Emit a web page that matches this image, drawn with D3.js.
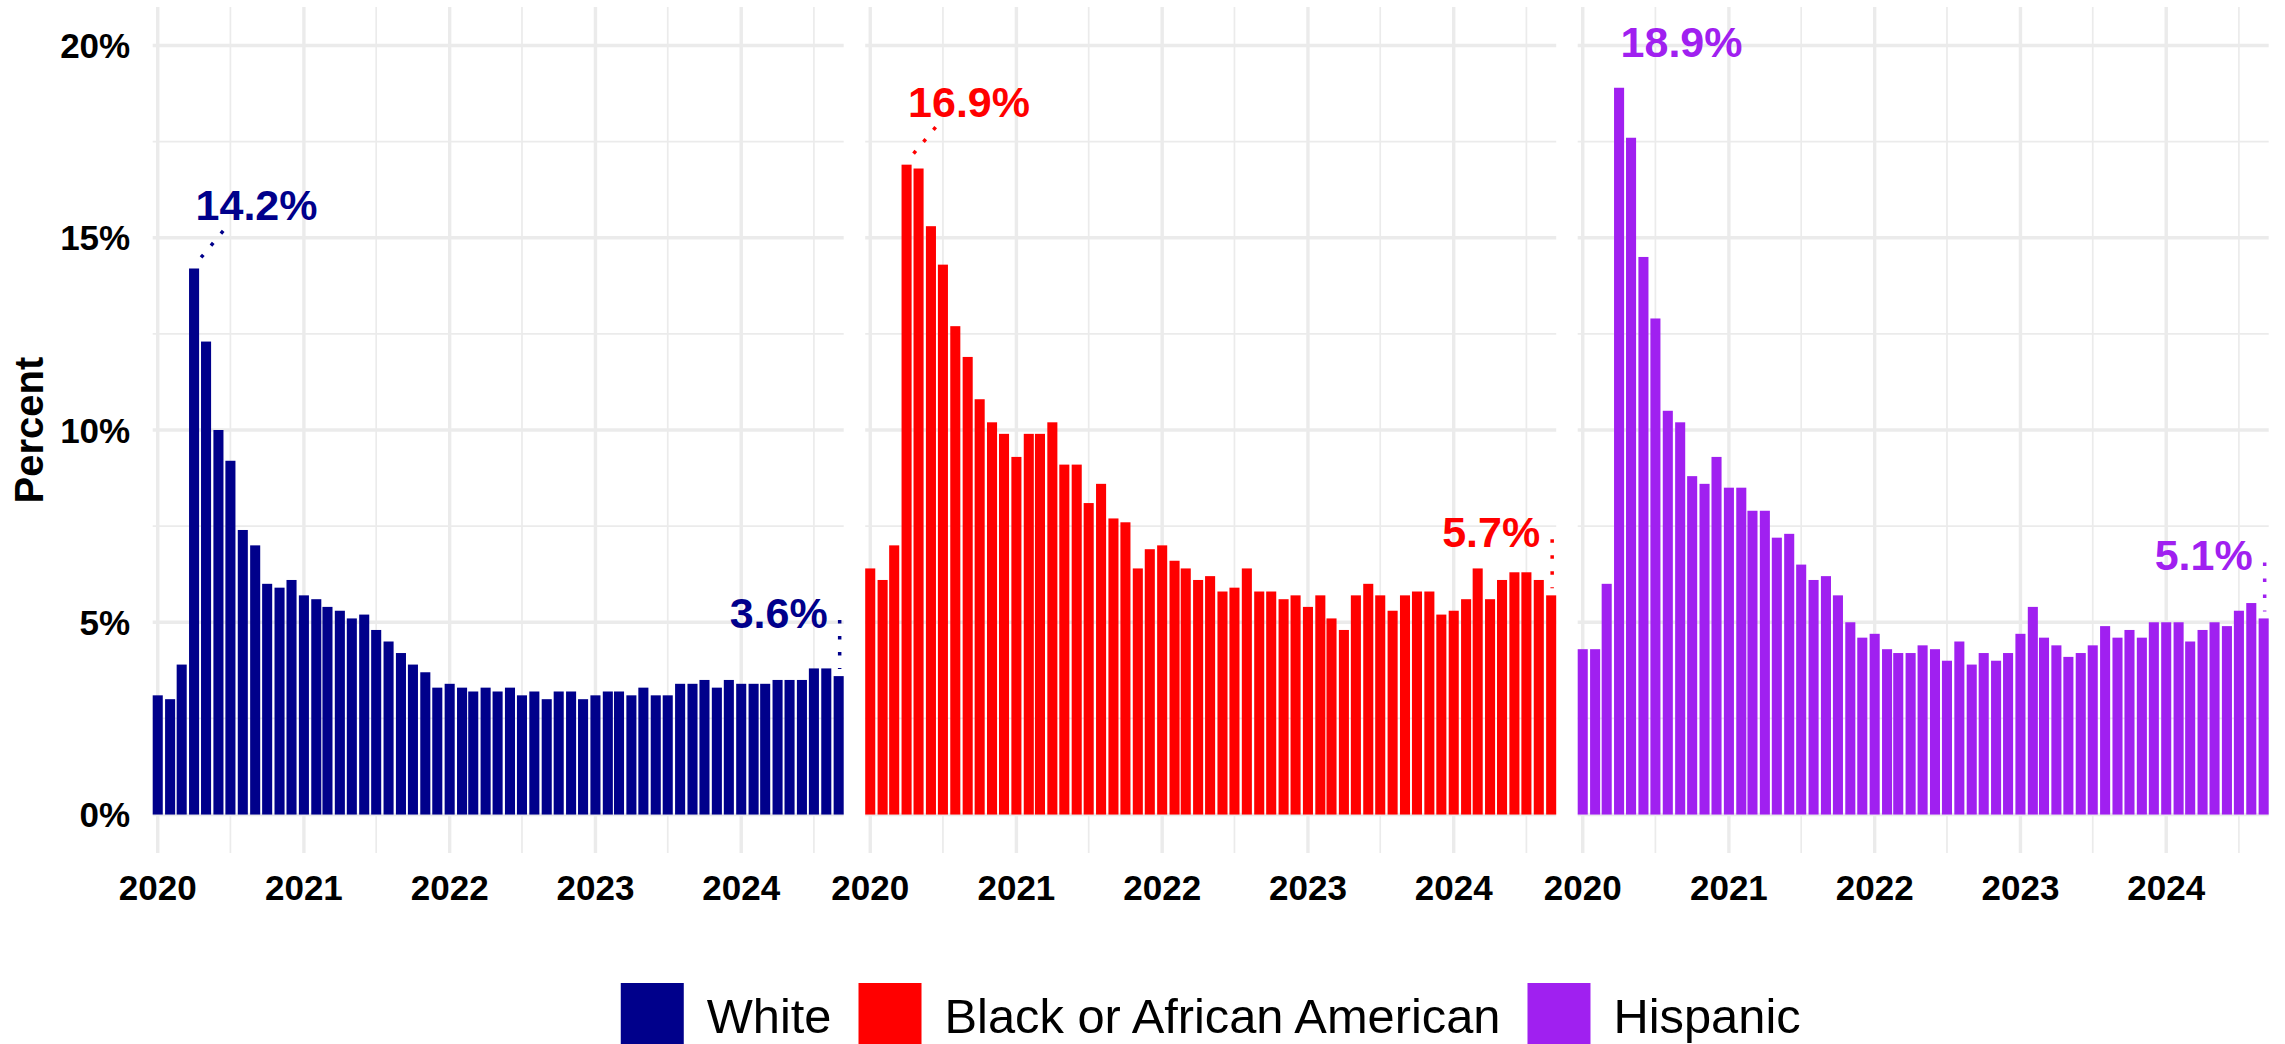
<!DOCTYPE html>
<html>
<head>
<meta charset="utf-8">
<script src="https://cdn.jsdelivr.net/npm/d3@7"></script>
<style>
  body { margin: 0; background: #fff; }
  svg { display: block; font-family: "Liberation Sans", Arial, Helvetica, sans-serif; }
</style>
</head>
<body>
<div id="chart"></div>
<script>
const months = [
    "2020-01", "2020-02", "2020-03", "2020-04", "2020-05", "2020-06", "2020-07", "2020-08", "2020-09", "2020-10", "2020-11", "2020-12",
    "2021-01", "2021-02", "2021-03", "2021-04", "2021-05", "2021-06", "2021-07", "2021-08", "2021-09", "2021-10", "2021-11", "2021-12",
    "2022-01", "2022-02", "2022-03", "2022-04", "2022-05", "2022-06", "2022-07", "2022-08", "2022-09", "2022-10", "2022-11", "2022-12",
    "2023-01", "2023-02", "2023-03", "2023-04", "2023-05", "2023-06", "2023-07", "2023-08", "2023-09", "2023-10", "2023-11", "2023-12",
    "2024-01", "2024-02", "2024-03", "2024-04", "2024-05", "2024-06", "2024-07", "2024-08", "2024-09"
]

const white = [
    3.1, 3.0, 3.9, 14.2, 12.3, 10.0, 9.2, 7.4, 7.0, 6.0, 5.9, 6.1,
    5.7, 5.6, 5.4, 5.3, 5.1, 5.2, 4.8, 4.5, 4.2, 3.9, 3.7, 3.3,
    3.4, 3.3, 3.2, 3.3, 3.2, 3.3, 3.1, 3.2, 3.0, 3.2, 3.2, 3.0,
    3.1, 3.2, 3.2, 3.1, 3.3, 3.1, 3.1, 3.4, 3.4, 3.5, 3.3, 3.5,
    3.4, 3.4, 3.4, 3.5, 3.5, 3.5, 3.8, 3.8, 3.6
]

const black = [
    6.4, 6.1, 7.0, 16.9, 16.8, 15.3, 14.3, 12.7, 11.9, 10.8, 10.2, 9.9,
    9.3, 9.9, 9.9, 10.2, 9.1, 9.1, 8.1, 8.6, 7.7, 7.6, 6.4, 6.9,
    7.0, 6.6, 6.4, 6.1, 6.2, 5.8, 5.9, 6.4, 5.8, 5.8, 5.6, 5.7,
    5.4, 5.7, 5.1, 4.8, 5.7, 6.0, 5.7, 5.3, 5.7, 5.8, 5.8, 5.2,
    5.3, 5.6, 6.4, 5.6, 6.1, 6.3, 6.3, 6.1, 5.7
]

const hispanic = [
    4.3, 4.3, 6.0, 18.9, 17.6, 14.5, 12.9, 10.5, 10.2, 8.8, 8.6, 9.3,
    8.5, 8.5, 7.9, 7.9, 7.2, 7.3, 6.5, 6.1, 6.2, 5.7, 5.0, 4.6,
    4.7, 4.3, 4.2, 4.2, 4.4, 4.3, 4.0, 4.5, 3.9, 4.2, 4.0, 4.2,
    4.7, 5.4, 4.6, 4.4, 4.1, 4.2, 4.4, 4.9, 4.6, 4.8, 4.6, 5.0,
    5.0, 5.0, 4.5, 4.8, 5.0, 4.9, 5.3, 5.5, 5.1
]

const groups = ["White", "Black or African American", "Hispanic"]
const groupColors = ["#00008B", "#FF0000", "#A020F0"]
const yearTicks = ["2020", "2021", "2022", "2023", "2024"]
const halfYearTicks = ["2020-07", "2021-07", "2022-07", "2023-07", "2024-07"]
const percentTicks = [0, 5, 10, 15, 20]
const percentMinor = [2.5, 7.5, 12.5, 17.5]

const series = [white, black, hispanic]

const chartWidth = 2285
const chartHeight = 1044
const panelTop = 7
const panelBottom = 853
const panelLeft = 152.7
const panelWidth = 691
const panelStep = 712.5
const fontFamily = '"Liberation Sans", Arial, Helvetica, sans-serif'

const parseMonth = d3.utcParse("%Y-%m")
const parseYear = d3.utcParse("%Y")
const dates = months.map(parseMonth)
const dayMs = 86400000
const halfBar = 12.6 * dayMs   // geom_col default width: 0.9 * 28 days

const yScale = d3.scaleLinear().domain([-1, 21]).range([panelBottom, panelTop])

const svg = d3.select("#chart")
    .append("svg")
    .attr("width", chartWidth)
    .attr("height", chartHeight)

function drawPanel(values, color, i) {
    const left = panelLeft + i * panelStep
    const xScale = d3.scaleUtc()
        .domain([new Date(dates[0].getTime() - halfBar), new Date(dates[dates.length - 1].getTime() + halfBar)])
        .range([left, left + panelWidth])

    const g = svg.append("g")

    // minor grid
    g.selectAll(".hminor").data(percentMinor).join("line")
        .attr("x1", left).attr("x2", left + panelWidth)
        .attr("y1", d => yScale(d)).attr("y2", d => yScale(d))
        .style("stroke", "#EBEBEB").style("stroke-width", 1.7)
    g.selectAll(".vminor").data(halfYearTicks).join("line")
        .attr("x1", d => xScale(parseMonth(d))).attr("x2", d => xScale(parseMonth(d)))
        .attr("y1", panelTop).attr("y2", panelBottom)
        .style("stroke", "#EBEBEB").style("stroke-width", 1.7)

    // major grid
    g.selectAll(".hmajor").data(percentTicks).join("line")
        .attr("x1", left).attr("x2", left + panelWidth)
        .attr("y1", d => yScale(d)).attr("y2", d => yScale(d))
        .style("stroke", "#EBEBEB").style("stroke-width", 3.4)
    g.selectAll(".vmajor").data(yearTicks).join("line")
        .attr("x1", d => xScale(parseYear(d))).attr("x2", d => xScale(parseYear(d)))
        .attr("y1", panelTop).attr("y2", panelBottom)
        .style("stroke", "#EBEBEB").style("stroke-width", 3.4)

    // bars
    g.selectAll(".bar").data(values).join("rect")
        .attr("x", (d, j) => xScale(new Date(dates[j].getTime() - halfBar)))
        .attr("width", (d, j) => xScale(new Date(dates[j].getTime() + halfBar)) - xScale(new Date(dates[j].getTime() - halfBar)))
        .attr("y", d => yScale(d))
        .attr("height", d => yScale(0) - yScale(d))
        .style("fill", color)

    // x tick labels
    g.selectAll(".xlab").data(yearTicks).join("text")
        .attr("x", d => xScale(parseYear(d)))
        .attr("y", 900)
        .attr("text-anchor", "middle")
        .style("font-family", fontFamily)
        .style("font-weight", "bold")
        .style("font-size", "35px")
        .style("fill", "#000")
        .text(d => d)

    // peak label
    const peak = d3.maxIndex(values)
    const px = xScale(dates[peak])
    const py = yScale(values[peak])
    const minBaseline = yScale(21) + 50
    const peakBaseline = Math.max(py - 48, minBaseline)
    if (py - 48 >= minBaseline) {
        g.append("line")
            .attr("x1", px + 7).attr("y1", py - 11)
            .attr("x2", px + 32).attr("y2", py - 41)
            .style("stroke", color)
            .style("stroke-width", 3.5)
            .style("stroke-dasharray", "3.5,12")
    }
    g.append("text")
        .attr("x", px + 1.5)
        .attr("y", peakBaseline)
        .style("font-family", fontFamily)
        .style("font-weight", "bold")
        .style("font-size", "43px")
        .style("fill", color)
        .text(values[peak].toFixed(1) + "%")

    // latest label
    const last = values.length - 1
    const lx = xScale(dates[last])
    const ly = yScale(values[last])
    g.append("line")
        .attr("x1", lx + 1).attr("y1", ly - 56)
        .attr("x2", lx + 1).attr("y2", ly - 7)
        .style("stroke", color)
        .style("stroke-width", 3.5)
        .style("stroke-dasharray", "3.5,12.5")
    g.append("text")
        .attr("x", lx - 11)
        .attr("y", ly - 48)
        .attr("text-anchor", "end")
        .style("font-family", fontFamily)
        .style("font-weight", "bold")
        .style("font-size", "43px")
        .style("fill", color)
        .text(values[last].toFixed(1) + "%")
}

series.forEach((values, i) => drawPanel(values, groupColors[i], i))

// y tick labels (first panel only)
svg.selectAll(".ylab").data(percentTicks).join("text")
    .attr("x", panelLeft - 22.5)
    .attr("y", d => yScale(d) + 12.5)
    .attr("text-anchor", "end")
    .style("font-family", fontFamily)
    .style("font-weight", "bold")
    .style("font-size", "35px")
    .style("fill", "#000")
    .text(d => d + "%")

// Y label
svg.append("text")
    .attr("text-anchor", "middle")
    .attr("transform", "translate(43," + (panelTop + panelBottom) / 2 + ")rotate(-90)")
    .style("font-family", fontFamily)
    .style("font-weight", "bold")
    .style("font-size", "40px")
    .style("fill", "#000")
    .text("Percent")

// legend
const keySize = 63
const legend = svg.append("g")
const items = groups.map((name, i) => {
    const item = legend.append("g")
    item.append("rect")
        .attr("width", keySize)
        .attr("height", keySize)
        .attr("y", 983)
        .style("fill", groupColors[i])
    const label = item.append("text")
        .attr("y", 1033)
        .style("font-family", fontFamily)
        .style("font-size", "48.8px")
        .style("fill", "#000")
        .text(name)
    return { item, label, w: label.node().getComputedTextLength() }
})
const total = d3.sum(items, d => keySize + 23 + d.w) + 27 * (items.length - 1)
let cursor = (panelLeft + 2 * panelStep + panelWidth + panelLeft) / 2 - total / 2
items.forEach(d => {
    d.item.select("rect").attr("x", cursor)
    d.label.attr("x", cursor + keySize + 23)
    cursor += keySize + 23 + d.w + 27
})
</script>
</body>
</html>
